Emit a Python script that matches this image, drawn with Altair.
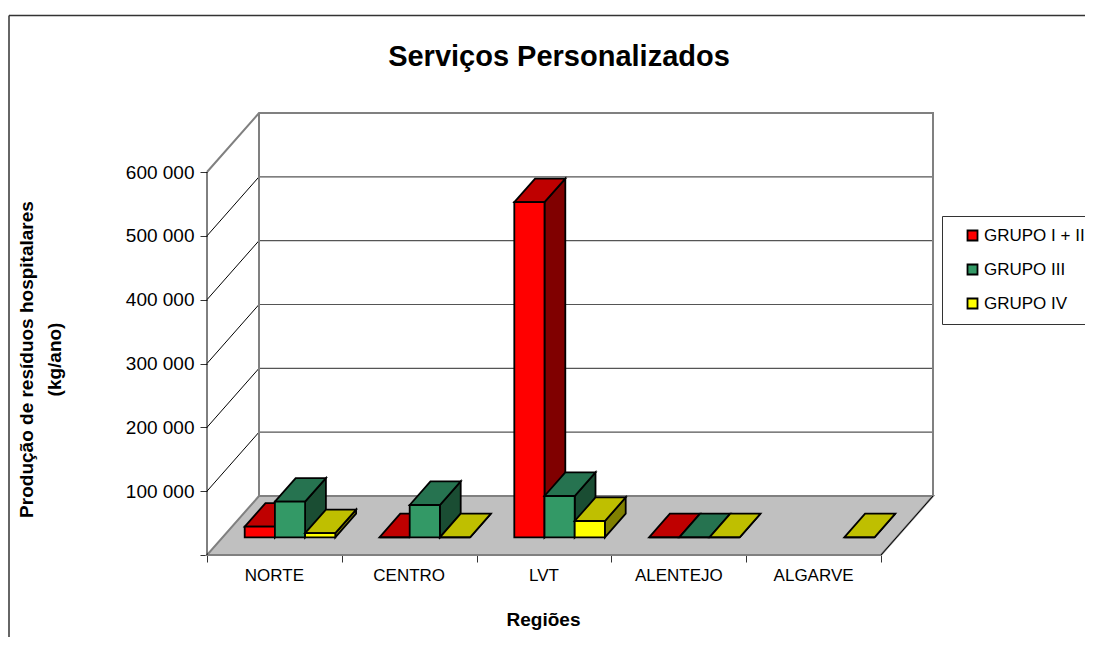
import altair as alt
import pandas as pd

regions = ["NORTE", "CENTRO", "LVT", "ALENTEJO", "ALGARVE"]
series = ["GRUPO I + II", "GRUPO III", "GRUPO IV"]
grupo_1_2 = [16600, 0, 525000, 0, None]
grupo_3 = [55800, 50600, 64700, 0, None]
grupo_4 = [6500, 0, 25500, 0, 0]
front_colors = ["#FF0000", "#339966", "#FFFF00"]
top_colors = ["#BF0000", "#267350", "#BFBF00"]
side_colors = ["#800000", "#1A4D33", "#808000"]
ticks = [0, 100000, 200000, 300000, 400000, 500000, 600000]

W, H = 726, 442
DEPTH_X = 52 / 134.8
DEPTH_Y = 600000 * 59 / 383
X_MAX = 5 + DEPTH_X
Y_MAX = 600000 + DEPTH_Y
BAR_W = 30.2 / 134.8
GAP = (1 - 3 * BAR_W) / 2
D0, D1 = 0.3, 0.7

xs = alt.Scale(domain=[0, X_MAX], nice=False, zero=False)
ys = alt.Scale(domain=[0, Y_MAX], nice=False, zero=False)

y_axis = alt.Axis(
    values=ticks, title=["Produção de resíduos hospitalares", "(kg/ano)"],
    domain=False, grid=False, tickSize=7, tickColor="#333333", tickWidth=1,
    labelFont="Liberation Sans", labelFontSize=19, labelColor="#000000", labelPadding=6,
    labelExpr="datum.value == 0 ? '' : replace(format(datum.value, ','), ',', '\u00a0')",
    titleFont="Liberation Sans", titleFontSize=19, titleFontWeight="bold", titleColor="#000000",
    titleX=-171, titleY=246, titleAngle=-90, titleAlign="center", titleLineHeight=28,
)
x_axis = alt.Axis(
    values=[0, 1, 2, 3, 4, 5], labels=False, domain=False, grid=False, tickSize=7,
    tickColor="#333333", tickWidth=1, title="Regiões",
    titleFont="Liberation Sans", titleFontSize=19, titleFontWeight="bold", titleColor="#000000",
    titleX=336, titleY=55, titleAlign="center", titlePadding=0,
)


def X(f="x", **k):
    return alt.X(f"{f}:Q", scale=xs, axis=x_axis, **k)


def Y(f="y", **k):
    return alt.Y(f"{f}:Q", scale=ys, axis=y_axis, **k)


front, top, side = [], [], []
for s, vals in enumerate([grupo_1_2, grupo_3, grupo_4]):
    for c, v in enumerate(vals):
        if v is None:
            continue
        a = c + GAP + s * BAR_W + D0 * DEPTH_X
        b = a + BAR_W
        base = D0 * DEPTH_Y
        h = base + v
        ddx = (D1 - D0) * DEPTH_X
        ddy = (D1 - D0) * DEPTH_Y
        key = f"{c}-{s}"
        front.append(dict(series=series[s], s=s, x=a, x2=b, y=base, y2=h))
        top.append(dict(s=s, k=key, y=h, x=a, x2=b, o=0))
        top.append(dict(s=s, k=key, y=h + ddy, x=a + ddx, x2=b + ddx, o=1))
        side.append(dict(s=s, k=key, x=b, y=base, y2=h, o=0))
        side.append(dict(s=s, k=key, x=b + ddx, y=base + ddy, y2=h + ddy, o=1))
front, top, side = pd.DataFrame(front), pd.DataFrame(top), pd.DataFrame(side)

GREY = "#808080"
floor = pd.DataFrame([
    dict(y=0, x=0, x2=5),
    dict(y=DEPTH_Y, x=DEPTH_X, x2=5 + DEPTH_X),
])
floor_layer = alt.Chart(floor).mark_area(
    orient="horizontal", fill="#C0C0C0", stroke=GREY, strokeWidth=2
).encode(y=Y(), x=X(), x2="x2:Q")

grid = pd.DataFrame([dict(v=v, y=v + DEPTH_Y, x=DEPTH_X, x2=5 + DEPTH_X) for v in ticks[1:-1]])
grid_layer = alt.Chart(grid).mark_rule(color="#555555", strokeWidth=1.2).encode(
    x=X(), x2="x2:Q", y=Y())

diag = []
for v in ticks[1:-1]:
    diag.append(dict(k=v, x=0, y=v))
    diag.append(dict(k=v, x=DEPTH_X, y=v + DEPTH_Y))
diag.append(dict(k=-1, x=5, y=0))
diag.append(dict(k=-1, x=5 + DEPTH_X, y=DEPTH_Y))
diag_layer = alt.Chart(pd.DataFrame(diag)).mark_line(color="#000000", strokeWidth=1).encode(
    x=X(), y=Y(), detail="k:N")

wall = pd.DataFrame([
    dict(x=0, y=600000),
    dict(x=DEPTH_X, y=600000 + DEPTH_Y),
    dict(x=5 + DEPTH_X, y=600000 + DEPTH_Y),
    dict(x=5 + DEPTH_X, y=DEPTH_Y),
])
wall_layer = alt.Chart(wall).mark_line(color=GREY, strokeWidth=2).encode(
    x=X(), y=Y(), order="order:Q"
).transform_window(order="row_number()")

wall_left = alt.Chart(pd.DataFrame([dict(x=DEPTH_X, y=DEPTH_Y, y2=600000 + DEPTH_Y)])).mark_rule(
    color=GREY, strokeWidth=2).encode(x=X(), y=Y(), y2="y2:Q")
y_axis_line = alt.Chart(pd.DataFrame([dict(x=0, y=0, y2=600000)])).mark_rule(
    color="#000000", strokeWidth=1).encode(x=X(), y=Y(), y2="y2:Q")

bar_layers = []
color = alt.Color("series:N", scale=alt.Scale(domain=series, range=front_colors), legend=alt.Legend(
    orient="none", legendX=735, legendY=103, title=None, symbolType="square", symbolSize=100,
    symbolStrokeColor="#000000", symbolStrokeWidth=1.8, symbolOpacity=1,
    labelFont="Liberation Sans", labelFontSize=17, labelColor="#000000", labelLimit=200,
    padding=11, rowPadding=15, strokeColor="#333333", symbolOffset=11, labelOffset=3,
))
for s in range(3):
    bar_layers.append(alt.Chart(side[side.s == s]).mark_area(
        fill=side_colors[s], stroke="#000000", strokeWidth=1.8, strokeJoin="miter"
    ).encode(x=X(), y=Y(), y2="y2:Q", detail="k:N"))
    bar_layers.append(alt.Chart(top[top.s == s]).mark_area(
        orient="horizontal", fill=top_colors[s], stroke="#000000", strokeWidth=1.8, strokeJoin="miter"
    ).encode(y=Y(), x=X(), x2="x2:Q", detail="k:N"))
    bar_layers.append(alt.Chart(front[front.s == s]).mark_rect(
        stroke="#000000", strokeWidth=1.8
    ).encode(x=X(), x2="x2:Q", y=Y(), y2="y2:Q", color=color))

labels = pd.DataFrame({"region": regions, "x": [i + 0.5 for i in range(5)]})
label_layer = alt.Chart(labels).mark_text(
    font="Liberation Sans", fontSize=17, color="#000000", baseline="middle", align="center"
).encode(x=X(), y=alt.value(463), text="region:N")

frame_v = alt.Chart(pd.DataFrame({"a": [0]})).mark_rule(color="#333333", strokeWidth=1.5).encode(
    x=alt.value(-198), y=alt.value(-97.5), y2=alt.value(540))
frame_h = alt.Chart(pd.DataFrame({"a": [0]})).mark_rule(color="#333333", strokeWidth=1.5).encode(
    y=alt.value(-97.5), x=alt.value(-198), x2=alt.value(890))

chart = alt.layer(
    frame_v, frame_h, floor_layer, grid_layer, diag_layer, wall_layer, wall_left, y_axis_line,
    *bar_layers, label_layer,
).properties(
    width=W, height=H,
    autosize=alt.AutoSizeParams(type="none"),
    padding={"left": 199, "top": 105, "right": 152, "bottom": 82},
    background="white",
    title=alt.TitleParams(
        "Serviços Personalizados", font="Liberation Sans", fontSize=29, fontWeight="bold",
        color="#000000", anchor="middle", dx=-11, offset=-57,
    ),
).configure_view(stroke=None)

chart.save("out.html", embed_options={"renderer": "svg", "actions": False})
